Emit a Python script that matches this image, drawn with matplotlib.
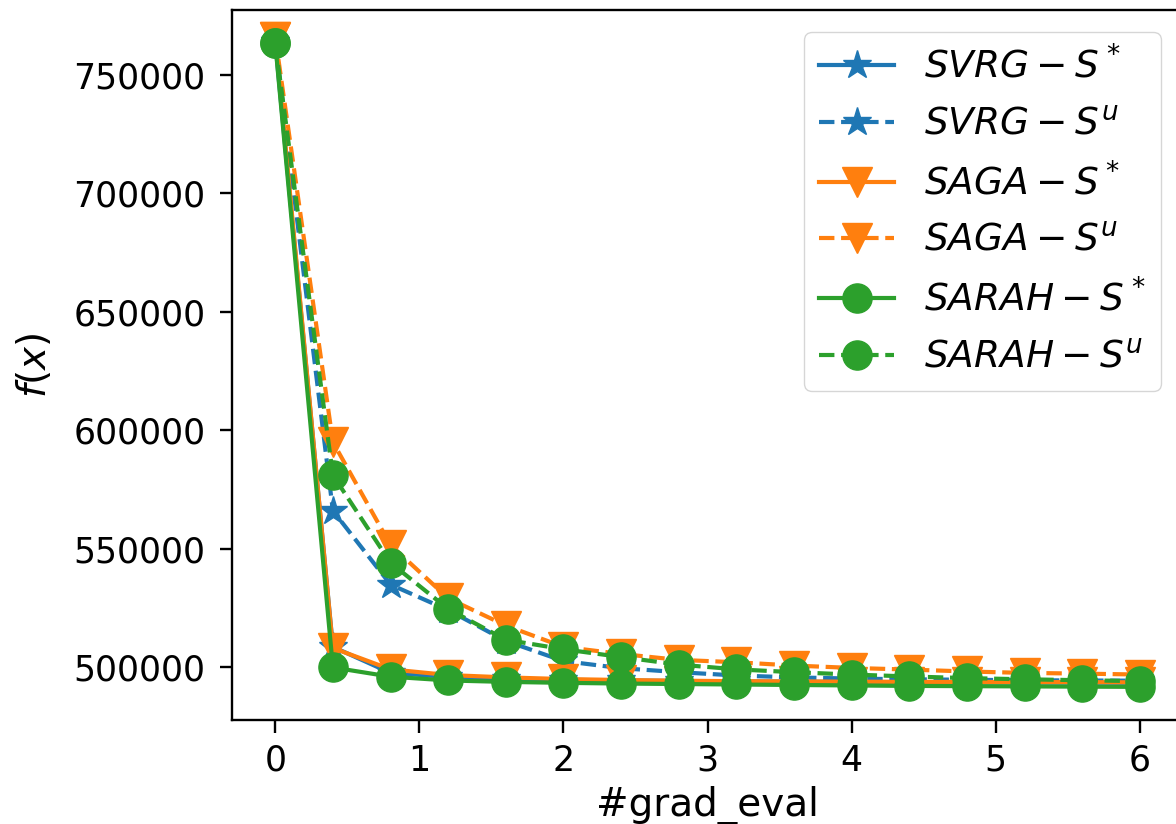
import matplotlib
matplotlib.use("Agg")
import matplotlib.pyplot as plt

# gradient evaluations (x axis)
grad_eval = [0.0, 0.4, 0.8, 1.2, 1.6, 2.0, 2.4, 2.8, 3.2, 3.6, 4.0, 4.4, 4.8, 5.2, 5.6, 6.0]

svrg_s = [764000, 508500, 497500, 495800, 495000, 494600, 494300, 494100,
          493900, 493800, 493700, 493600, 493500, 493400, 493400, 493300]
svrg_u = [764000, 566000, 534800, 524000, 511000, 502500, 499500, 497800,
          496400, 495600, 495100, 494800, 494600, 494400, 494300, 494200]
saga_s = [766000, 508000, 499000, 496600, 495600, 494900, 494500, 494200,
          494000, 493900, 493800, 493700, 493700, 493600, 493600, 493500]
saga_u = [766000, 595000, 551500, 529000, 517500, 508500, 505500, 503000,
          502000, 500600, 499600, 498900, 498100, 497500, 497200, 496800]
sarah_s = [763500, 499800, 495900, 494300, 493700, 493300, 493000, 492800,
           492600, 492400, 492200, 492000, 491900, 491800, 491700, 491600]
sarah_u = [763500, 581000, 544000, 524500, 511500, 507500, 504200, 501000,
           499000, 497800, 496800, 496000, 495300, 494800, 494400, 494000]

TICK_FS = 25
LABEL_FS = 28
LEGEND_FS = 27

fig = plt.figure(figsize=(11.76, 8.24), dpi=100)
# axes right edge sits just past the image border (picture is cropped)
ax = fig.add_axes([0.1973, 0.1262, 0.8087, 0.8617])

lw = 3.0
ms = 21
ax.plot(grad_eval, svrg_s, "-", marker="*", color="C0", lw=lw, ms=ms, label=r"$SVRG-S^*$")
ax.plot(grad_eval, svrg_u, "--", marker="*", color="C0", lw=lw, ms=ms, label=r"$SVRG-S^u$")
ax.plot(grad_eval, saga_s, "-", marker="v", color="C1", lw=lw, ms=ms, label=r"$SAGA-S^*$")
ax.plot(grad_eval, saga_u, "--", marker="v", color="C1", lw=lw, ms=ms, label=r"$SAGA-S^u$")
ax.plot(grad_eval, sarah_s, "-", marker="o", color="C2", lw=lw, ms=ms, label=r"$SARAH-S^*$")
ax.plot(grad_eval, sarah_u, "--", marker="o", color="C2", lw=lw, ms=ms, label=r"$SARAH-S^u$")

ax.set_xlim(-0.3, 6.3)
ax.set_ylim(477600, 777500)
ax.set_yticks([500000, 550000, 600000, 650000, 700000, 750000])
ax.set_xticks([0, 1, 2, 3, 4, 5, 6])

ax.tick_params(labelsize=TICK_FS, length=9, width=1.7)
ax.tick_params(axis="y", pad=10)
ax.tick_params(axis="x", pad=8)
for sp in ax.spines.values():
    sp.set_linewidth(1.7)

ax.set_xlabel("#grad_eval", fontsize=LABEL_FS, labelpad=6)
ax.set_ylabel(r"$f(x)$", fontsize=LABEL_FS, labelpad=14)

ax.legend(loc="upper right", fontsize=LEGEND_FS, handlelength=2.0,
          labelspacing=0.55, borderaxespad=0.6)

fig.savefig("out.png", dpi=100)
